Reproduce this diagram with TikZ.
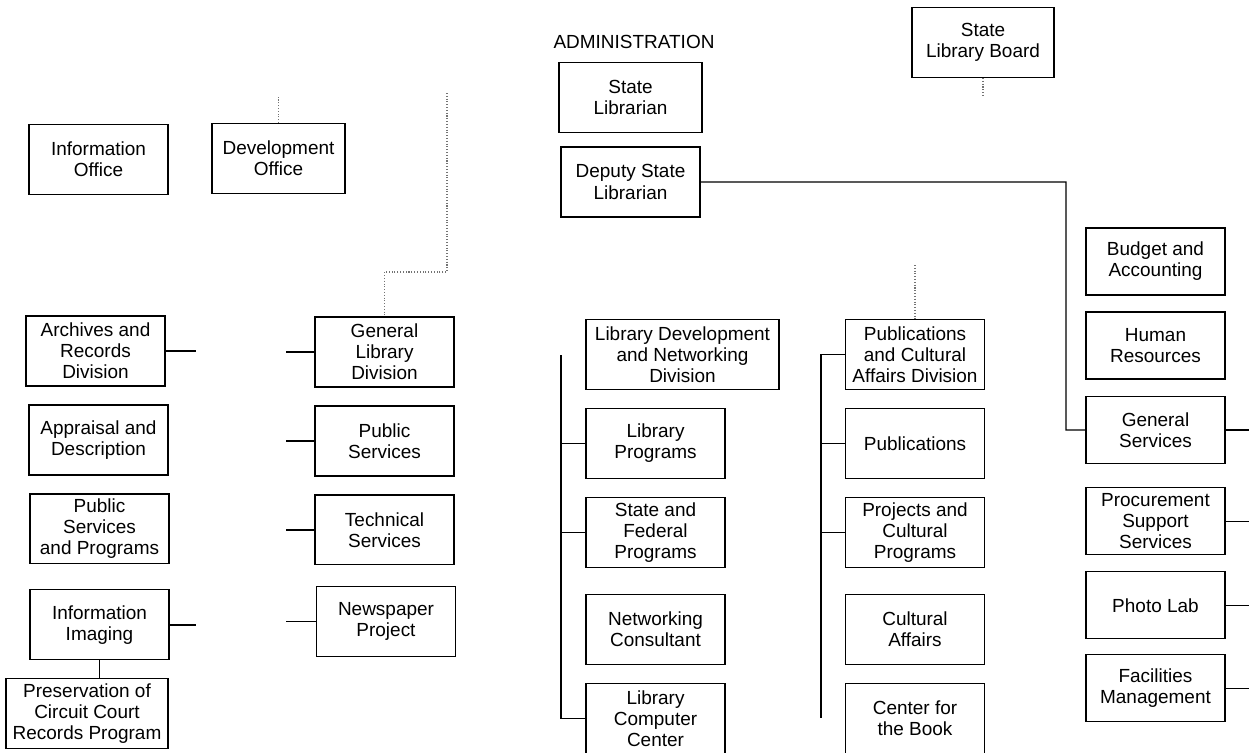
\documentclass[tikz,border=0pt]{standalone}
\usepackage{fontspec}
\setmainfont{Liberation Sans}
\usetikzlibrary{positioning}
\tikzset{
	box/.style = {rectangle, draw = black, line width = 0.6pt, minimum width = 2.78cm, minimum height = 1.4cm, inner sep = 0pt, align = center},
	widebox/.style = {box, minimum width = 3.86cm},
	rbox/.style = {box, minimum height = 1.34cm},
	heading/.style = {inner sep = 0pt},
	link/.style = {draw = black, line width = 0.7pt},
	faint/.style = {draw = black!55, line width = 0.6pt, densely dotted}
}

\begin{document}
\begin{tikzpicture}[
	x = 0.02cm, y = -0.02cm,
	node distance = 1.78cm,
	font = {\fontsize{10.8pt}{12pt}\selectfont}
	]
	\useasboundingbox (0,0) rectangle (1249,752);
	
	%%%%%%%% administration %%%%%%%%
	\node (admin) [heading] at (634,42) {ADMINISTRATION};
	\node (statelib) [box, minimum width = 2.86cm] at (630.5,97.5) {State\\Librarian};
	\node (deputy) [box, below of = statelib, yshift = 0.09cm] {Deputy State\\Librarian};
	\node (board) [box, minimum width = 2.84cm] at (983,42.5) {State\\Library Board};
	% offices
	\node (infooff) [box] at (98.5,159.5) {Information\\Office};
	\node (devoff) [box, minimum width = 2.66cm] at (278.5,158.5) {Development\\Office};
	
	%%%%%%%% archives %%%%%%%%
	\node (archives) [box] at (95.5,351) {Archives and\\Records\\Division};
	\node (appraisal) [box, below of = archives, xshift = 0.06cm] {Appraisal and\\Description};
	\node (pubprog) [box, below of = appraisal, xshift = 0.02cm] {Public\\Services\\and Programs};
	\node (imaging) [box, below of = pubprog, yshift = -0.14cm] {Information\\Imaging};
	\node (preserve) [box, minimum width = 3.24cm, below of = imaging, xshift = -0.25cm] {Preservation of\\Circuit Court\\Records Program};
	
	%%%%%%%% general library %%%%%%%%
	\node (genlib) [box] at (384.5,352) {General\\Library\\Division};
	\node (pubserv) [box, below of = genlib] {Public\\Services};
	\node (techserv) [box, below of = pubserv] {Technical\\Services};
	\node (newspaper) [box, below of = techserv, xshift = 0.03cm, yshift = -0.05cm] {Newspaper\\Project};
	
	%%%%%%%% library development %%%%%%%%
	\node (libdev) [widebox] at (682.5,354.5) {Library Development\\and Networking\\Division};
	\node (libprog) [box, below of = libdev, xshift = -0.54cm] {Library\\Programs};
	\node (statefed) [box, below of = libprog] {State and\\Federal\\Programs};
	\node (netcons) [box, below of = statefed, yshift = -0.16cm] {Networking\\Consultant};
	\node (compctr) [box, below of = netcons] {Library\\Computer\\Center};
	
	%%%%%%%% publications %%%%%%%%
	\node (pubdiv) [box] at (915,354.5) {Publications\\and Cultural\\Affairs Division};
	\node (publications) [box, below of = pubdiv] {Publications};
	\node (projects) [box, below of = publications] {Projects and\\Cultural\\Programs};
	\node (cultaff) [box, below of = projects, yshift = -0.16cm] {Cultural\\Affairs};
	\node (centerbook) [box, below of = cultaff] {Center for\\the Book};
	
	%%%%%%%% services column %%%%%%%%
	\node (budget) [rbox] at (1155.5,261.5) {Budget and\\Accounting};
	\node (humres) [rbox, below of = budget, yshift = 0.1cm] {Human\\Resources};
	\node (gensrv) [rbox, below of = humres, yshift = 0.09cm] {General\\Services};
	\node (procure) [rbox, below of = gensrv, yshift = -0.05cm] {Procurement\\Support\\Services};
	\node (photolab) [rbox, below of = procure, yshift = 0.1cm] {Photo Lab};
	\node (facilities) [rbox, below of = photolab, yshift = 0.12cm] {Facilities\\Management};
	
	%%% connectors %%%
	% free ends of the stubs
	\coordinate (leftgap) at (196,0);
	\coordinate (midgap) at (286,0);
	\coordinate (redge) at (1249,0);
	
	% deputy to general services
	\coordinate (gsjoin) at (1066,430);
	\draw [link] (deputy.east) -| (gsjoin) -- (gensrv.west);
	\draw [link] (gensrv.east) -- (gensrv.east -| redge);
	\draw [link] (procure.east) -- (procure.east -| redge);
	\draw [link] (photolab.east) -- (photolab.east -| redge);
	\draw [link] (facilities.east) -- (facilities.east -| redge);
	
	% archives and general library stubs
	\draw [link] (archives.east) -- (archives.east -| leftgap);
	\draw [link] (imaging.east) -- (imaging.east -| leftgap);
	\draw [link] (imaging.south) -- (imaging.south |- preserve.north);
	\draw [link] (genlib.west) -- (genlib.west -| midgap);
	\draw [link] (pubserv.west) -- (pubserv.west -| midgap);
	\draw [link] (techserv.west) -- (techserv.west -| midgap);
	\draw [link] (newspaper.west) -- (newspaper.west -| midgap);
	
	% library development
	\coordinate (ldtop) at (561,355);
	\draw [link] (ldtop) |- (compctr.west);
	\draw [link] (ldtop |- libprog.west) -- (libprog.west);
	\draw [link] (ldtop |- statefed.west) -- (statefed.west);
	
	% publications
	\coordinate (pdbot) at (821,718);
	\draw [link] (pubdiv.west) -| (pdbot);
	\draw [link] (pdbot |- publications.west) -- (publications.west);
	\draw [link] (pdbot |- projects.west) -- (projects.west);
	
	% faded lines
	\coordinate (boardtail) at (983,97);
	\draw [faint] (board.south) -- (boardtail);
	\coordinate (devtop) at (278.5,96);
	\draw [faint] (devoff.north) -- (devtop);
	\coordinate (gltop) at (447,93);
	\coordinate (glbend) at (447,272);
	\draw [faint] (gltop) -- (glbend) -| (genlib.north);
	\coordinate (pdtop) at (915,265);
	\draw [faint] (pdtop) -- (pubdiv.north);
\end{tikzpicture}
\end{document}
